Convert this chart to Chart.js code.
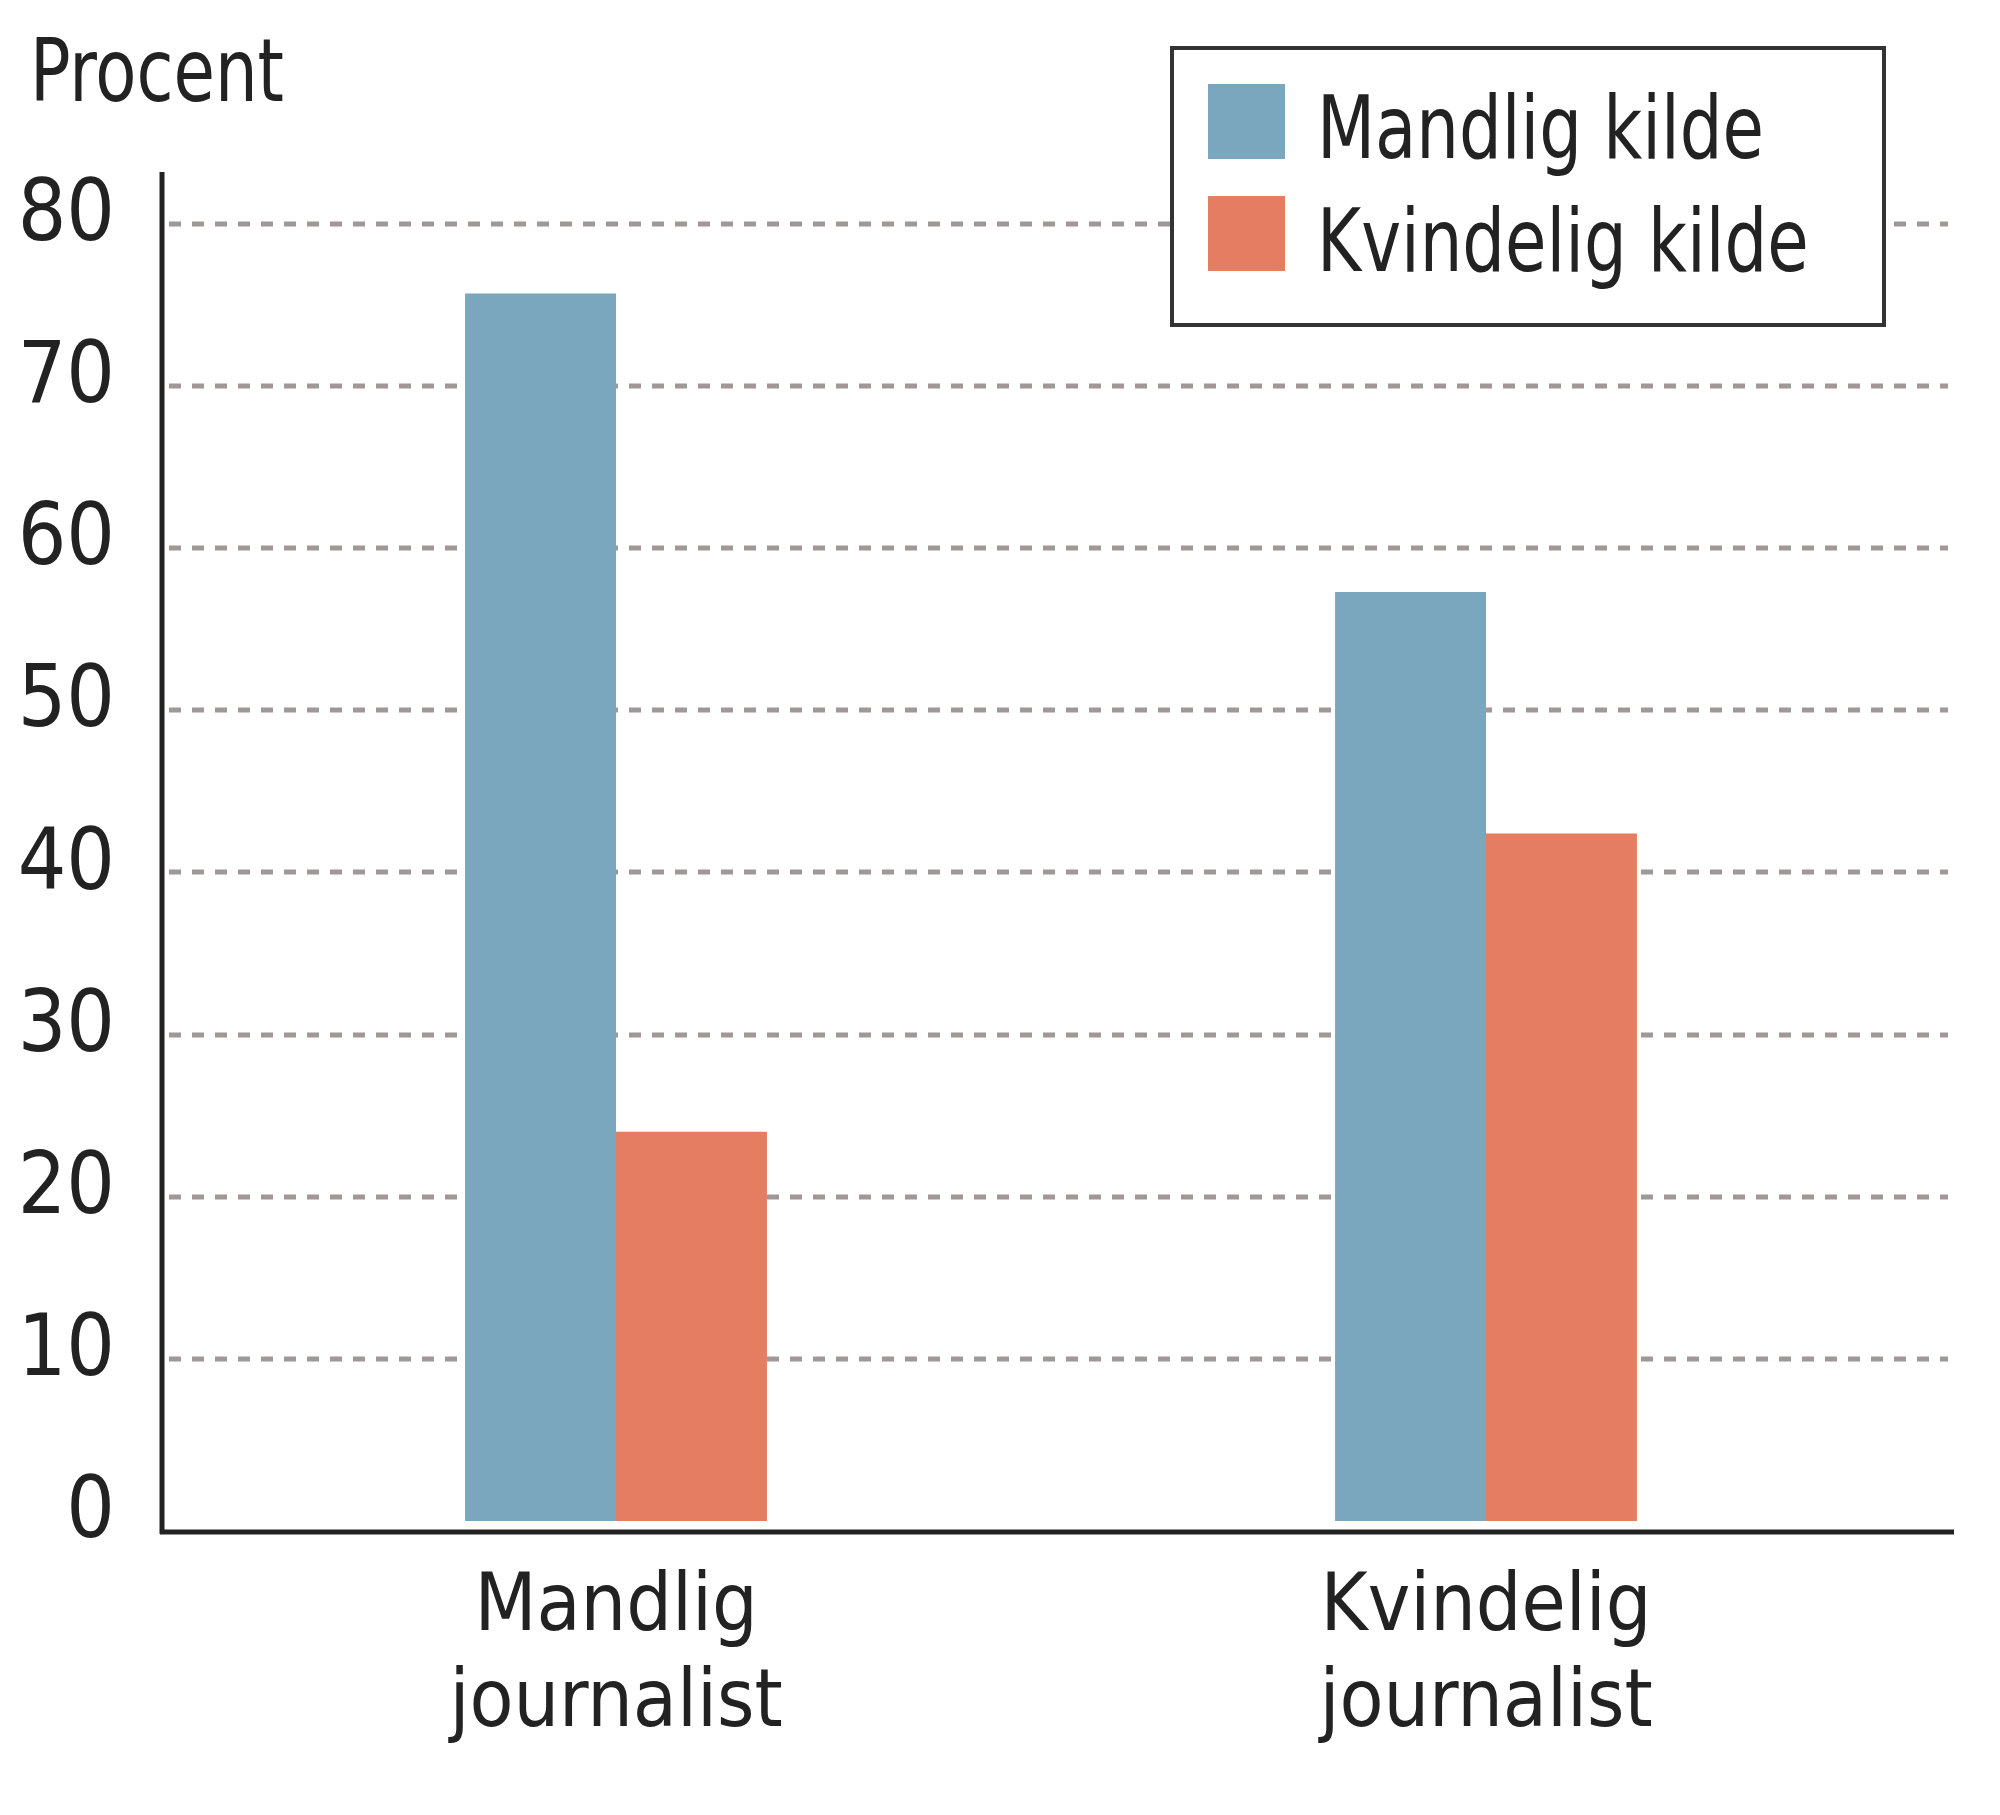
<!DOCTYPE html>
<html>
<head>
<meta charset="utf-8">
<title>Procent</title>
<script src="https://cdn.jsdelivr.net/npm/chart.js@4"></script>
<style>
  html, body { margin: 0; padding: 0; background: #fff; }
  #wrap { position: relative; width: 2000px; height: 1815px; }
</style>
</head>
<body>
<div id="wrap"><canvas id="kildeChart"></canvas></div>
<script>
// data
const categories = [["Mandlig", "journalist"], ["Kvindelig", "journalist"]];
const seriesNames = ["Mandlig kilde", "Kvindelig kilde"];
const mandligKilde = [75.7, 57.3];
const kvindeligKilde = [24.0, 42.4];
const yTicks = [0, 10, 20, 30, 40, 50, 60, 70, 80];
const axisTitle = "Procent";

const FONT = '"Liberation Sans Narrow", "DejaVu Sans Condensed", sans-serif';
const INK = "#222";
const GRID = "#a09797";
const BLUE = "#7ba7be";
const ORANGE = "#e47d61";
const TICK_SIZE = 85;
const CAT_SIZE = 80;
const LABEL_SIZE = 87;
const SQUEEZE = 0.86; // the original face is narrower than what we have

Chart.defaults.font.family = FONT;
Chart.defaults.color = INK;

function narrowText(ctx, text, x, y) {
    ctx.save();
    ctx.translate(x, y);
    ctx.scale(SQUEEZE, 1);
    ctx.fillText(text, 0, 0);
    ctx.restore();
}

// dashed grid, axis lines, legend box and the "Procent" title
const frame = {
    id: "frame",
    beforeDatasetsDraw(chart) {
        const { ctx, chartArea } = chart;
        const y = chart.scales.y;
        ctx.save();
        ctx.strokeStyle = GRID;
        ctx.lineWidth = 5;
        ctx.setLineDash([12, 11]);
        y.ticks.forEach(t => {
            if (t.value === 0) return;
            const py = Math.round(y.getPixelForValue(t.value));
            ctx.beginPath();
            ctx.moveTo(chartArea.left - 12, py);
            ctx.lineTo(chartArea.right + 27, py);
            ctx.stroke();
        });
        ctx.restore();
    },
    afterDatasetsDraw(chart) {
        const { ctx, chartArea } = chart;
        ctx.save();
        ctx.strokeStyle = INK;
        ctx.lineWidth = 5;
        ctx.beginPath();
        ctx.moveTo(chartArea.left - 19, chartArea.top);
        ctx.lineTo(chartArea.left - 19, chartArea.bottom + 2);
        ctx.moveTo(chartArea.left - 21, chartArea.bottom);
        ctx.lineTo(chartArea.right + 33, chartArea.bottom);
        ctx.stroke();
        ctx.restore();
    },
    afterDraw(chart) {
        const ctx = chart.ctx;
        ctx.save();
        ctx.font = LABEL_SIZE + "px " + FONT;
        ctx.fillStyle = INK;
        ctx.textBaseline = "alphabetic";
        ctx.textAlign = "left";
        narrowText(ctx, axisTitle, 30, 101);

        // legend
        ctx.fillStyle = "#fff";
        ctx.fillRect(1172, 48, 712, 277);
        ctx.strokeStyle = "#333";
        ctx.lineWidth = 4;
        ctx.strokeRect(1172, 48, 712, 277);
        chart.data.datasets.forEach((ds, i) => {
            ctx.fillStyle = ds.backgroundColor;
            ctx.fillRect(1208, 84 + i * 112, 77, 75);
            ctx.fillStyle = INK;
            narrowText(ctx, ds.label, 1317, 158 + i * 113);
        });
        ctx.restore();
    }
};

new Chart(document.getElementById("kildeChart"), {
    type: "bar",
    data: {
        labels: categories,
        datasets: [
            { label: seriesNames[0], data: mandligKilde, backgroundColor: BLUE },
            { label: seriesNames[1], data: kvindeligKilde, backgroundColor: ORANGE }
        ]
    },
    options: {
        responsive: true,
        maintainAspectRatio: false,
        animation: false,
        layout: { padding: { top: 172, right: 79, left: 0, bottom: 0 } },
        datasets: {
            bar: { barPercentage: 1, categoryPercentage: 0.347, borderWidth: 0 }
        },
        plugins: {
            legend: { display: false },
            tooltip: { enabled: false }
        },
        scales: {
            x: {
                afterFit: s => { s.height = 283; },
                grid: { display: false, drawTicks: false },
                border: { display: false },
                ticks: {
                    padding: 30,
                    maxRotation: 0,
                    autoSkip: false,
                    color: INK,
                    font: { size: CAT_SIZE, lineHeight: 1.19 }
                }
            },
            y: {
                min: -0.68,
                max: 83.2,
                afterBuildTicks: s => { s.ticks = yTicks.map(v => ({ value: v })); },
                afterFit: s => { s.width = 181; },
                grid: { display: false, drawTicks: false },
                border: { display: false },
                ticks: {
                    padding: 66,
                    labelOffset: -6,
                    color: INK,
                    font: { size: TICK_SIZE }
                }
            }
        }
    },
    plugins: [frame]
});
</script>
</body>
</html>
